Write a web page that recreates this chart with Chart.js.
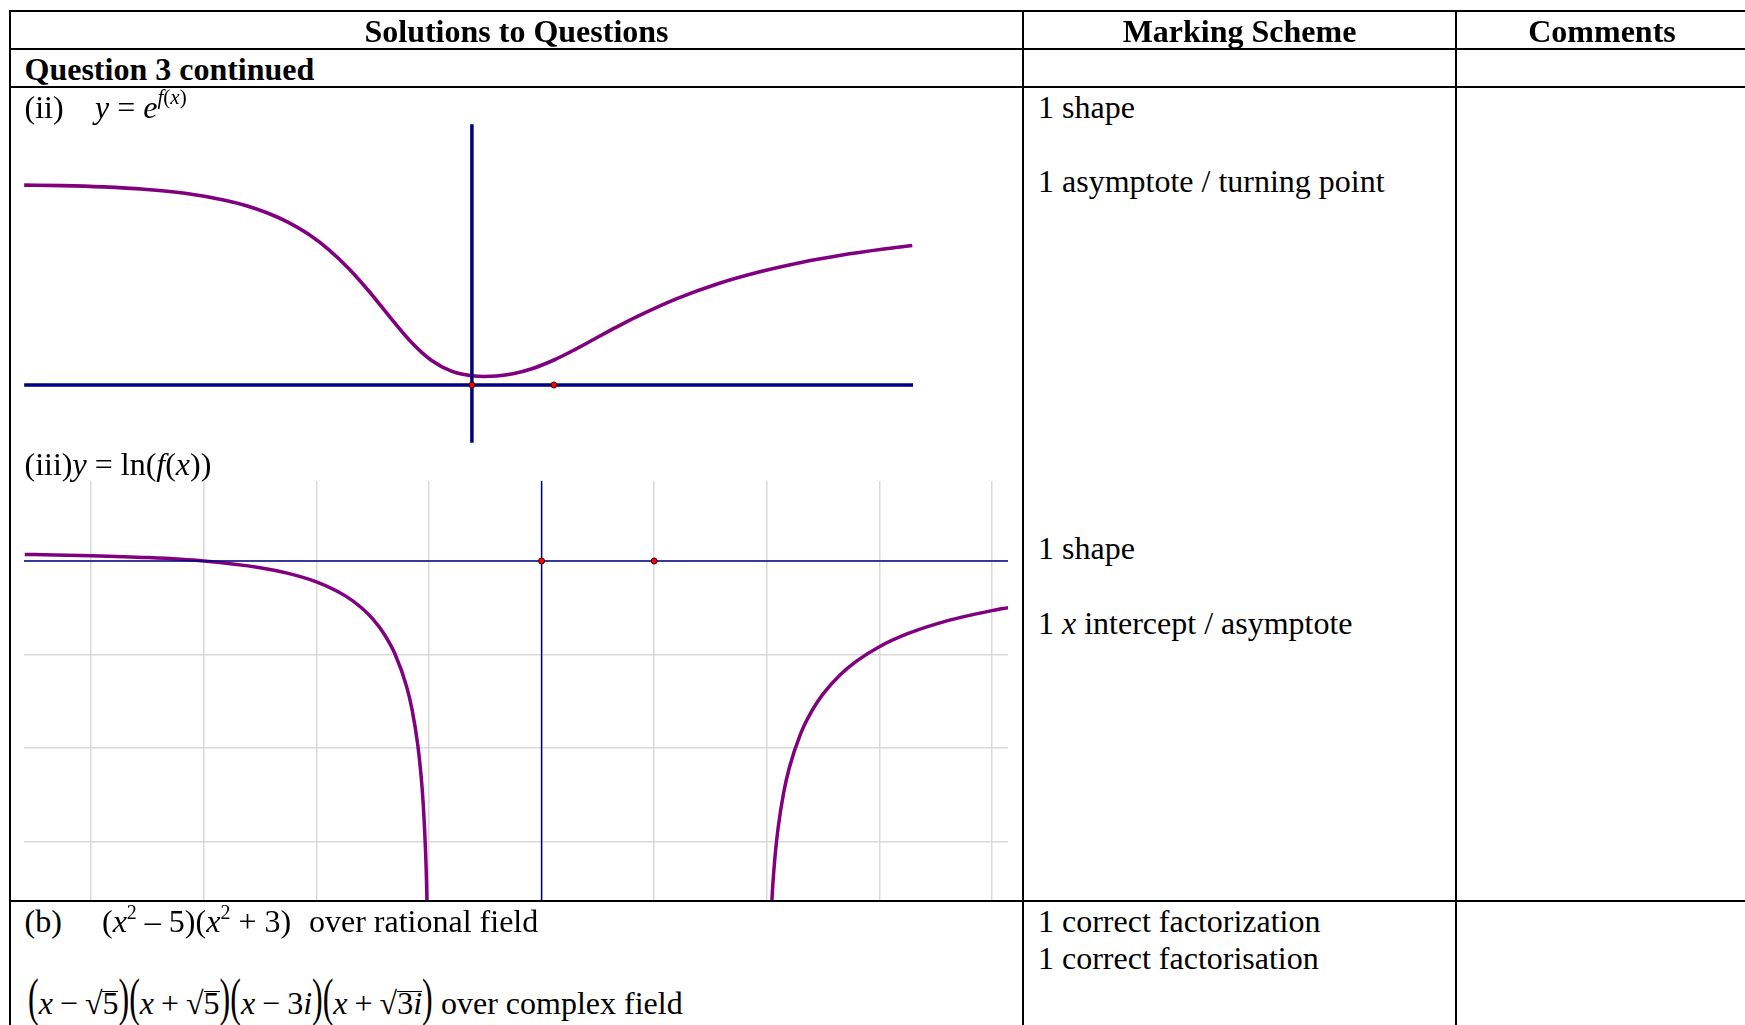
<!DOCTYPE html>
<html>
<head>
<meta charset="utf-8">
<title>Question 3 continued</title>
<script src="https://cdn.jsdelivr.net/npm/chart.js@4.4.1/dist/chart.umd.min.js"></script>
<style>
  html, body { margin: 0; padding: 0; background: #fff; }
  body { width: 1745px; height: 1025px; position: relative; overflow: hidden;
         font-family: "Liberation Serif", "Times New Roman", serif; }
  .ln { position: absolute; background: #000; z-index: 3; }
  .tx { position: absolute; white-space: nowrap; line-height: 32px; font-size: 32px; color: #000; z-index: 4; }
  .b { font-weight: bold; }
  .c { text-align: center; }
  .sup { position: relative; font-size: 20px; top: -13px; }
  .bp { display: inline-block; transform: scaleY(1.65); transform-origin: 50% 25px; }
  .ov { display: inline-block; line-height: 22px; border-top: 1.6px solid #000; }
  .op { margin: 0 7px; }
  canvas { position: absolute; z-index: 1; }
</style>
</head>
<body>

<!-- table rules -->
<div class="ln" style="left:9px;top:10px;width:1740px;height:2px"></div>
<div class="ln" style="left:9px;top:48px;width:1740px;height:2px"></div>
<div class="ln" style="left:9px;top:86px;width:1740px;height:2px"></div>
<div class="ln" style="left:9px;top:900px;width:1740px;height:2px"></div>
<div class="ln" style="left:9px;top:10px;width:2px;height:1020px"></div>
<div class="ln" style="left:1022px;top:10px;width:2px;height:1020px"></div>
<div class="ln" style="left:1455px;top:10px;width:2px;height:1020px"></div>

<!-- header row -->
<div class="tx b c" style="left:10px;width:1013px;top:15.4px">Solutions to Questions</div>
<div class="tx b c" style="left:1023px;width:433px;top:15.4px">Marking Scheme</div>
<div class="tx b c" style="left:1456px;width:292px;top:15.4px">Comments</div>
<div class="tx b" style="left:24.5px;top:53px">Question 3 continued</div>

<!-- part (ii) -->
<div class="tx" style="left:24.5px;top:91.3px">(ii)</div>
<div class="tx" style="left:95px;top:91.3px"><i>y</i> = <i>e</i><span class="sup" style="font-size:21px;top:-14px"><i>f</i>(<i>x</i>)</span></div>
<div class="tx" style="left:1038px;top:91.3px">1 shape</div>
<div class="tx" style="left:1038px;top:165.4px">1 asymptote / turning point</div>

<!-- part (iii) -->
<div class="tx" style="left:24.5px;top:447.6px">(iii)<i>y</i> = ln(<i>f</i>(<i>x</i>))</div>
<div class="tx" style="left:1038px;top:532.3px">1 shape</div>
<div class="tx" style="left:1038px;top:607.4px">1 <i>x</i> intercept / asymptote</div>

<!-- part (b) -->
<div class="tx" style="left:24.5px;top:905.3px">(b)</div>
<div class="tx" style="left:102px;top:905.3px">(<i>x</i><span class="sup">2</span> – 5)(<i>x</i><span class="sup">2</span> + 3)</div>
<div class="tx" style="left:309px;top:905.3px">over rational field</div>
<div class="tx" style="left:1038px;top:905.3px">1 correct factorization</div>
<div class="tx" style="left:1038px;top:942.3px">1 correct factorisation</div>
<div class="tx" style="left:28px;top:986.8px"><span class="bp">(</span><i>x</i><span class="op">−</span>√<span class="ov">5</span><span class="bp">)</span><span class="bp">(</span><i>x</i><span class="op">+</span>√<span class="ov">5</span><span class="bp">)</span><span class="bp">(</span><i>x</i><span class="op">−</span>3<i>i</i><span class="bp">)</span><span class="bp">(</span><i>x</i><span class="op">+</span>√<span class="ov">3<i>i</i></span><span class="bp">)</span></div>
<div class="tx" style="left:441px;top:986.8px">over complex field</div>

<canvas id="expChart" width="910" height="340" style="left:14px;top:115px;width:910px;height:340px"></canvas>
<canvas id="lnChart" width="984" height="420" style="left:24px;top:481px;width:984px;height:420px"></canvas>

<script>
// y = e^{f(x)} : curve samples
const expX = [-5.46, -5, -4.5, -4, -3.5, -3, -2.75, -2.5, -2.25, -2, -1.75, -1.5, -1.25, -1, -0.75, -0.5, -0.25, 0, 0.15, 0.3, 0.5, 0.75, 1, 1.25, 1.5, 1.75, 2, 2.5, 3, 3.5, 4, 4.5, 5, 5.37];
const expY = [2.944, 2.936, 2.917, 2.883, 2.823, 2.718, 2.640, 2.537, 2.402, 2.226, 1.998, 1.713, 1.373, 1.000, 0.644, 0.368, 0.204, 0.135, 0.125, 0.132, 0.165, 0.247, 0.368, 0.518, 0.681, 0.844, 1.000, 1.273, 1.492, 1.664, 1.801, 1.910, 1.998, 2.053];
// axis extents and marked points for the first graph
const expAxisX = [-5.46, 5.38];
const expAxisY = [-0.85, 3.84];
const expMarks = [0, 1];

// y = ln(f(x)) : left and right branches
const lnLeftX = [-4.59, -4.5, -4, -3.5, -3, -2.5, -2.25, -2, -1.75, -1.6, -1.5, -1.4, -1.3, -1.2, -1.15, -1.1, -1.07, -1.05, -1.03, -1.02, -1.01];
const lnLeftY = [0.0696, 0.0682, 0.0572, 0.0370, 0, -0.0715, -0.1321, -0.2231, -0.3677, -0.4997, -0.6190, -0.7777, -0.9996, -1.3383, -1.5924, -1.9642, -2.3007, -2.6237, -3.1211, -3.5199, -4.2064];
const lnRightX = [2.02, 2.03, 2.05, 2.075, 2.1, 2.15, 2.2, 2.3, 2.4, 2.5, 2.65, 2.8, 3, 3.25, 3.5, 3.75, 4, 4.15];
const lnRightY = [-4.4321, -4.0313, -3.5297, -3.1357, -2.8594, -2.4765, -2.2110, -1.8490, -1.6035, -1.4214, -1.2183, -1.0674, -0.9163, -0.7777, -0.6745, -0.5945, -0.5306, -0.4982];
// axis extents and marked points for the second graph
const lnAxisX = [-4.62, 4.16];
const lnAxisY = [0.86, -3.64];
const lnMarks = [0, 1];

const PURPLE = '#800080';
const NAVY = '#000080';

function pts(xs, ys) { return xs.map((x, i) => ({ x: x, y: ys[i] })); }
function lineSet(data, color, width, order) {
  return { data: data, showLine: true, borderColor: color, borderWidth: width, pointRadius: 0,
           pointHoverRadius: 0, fill: false, order: order };
}
function markSet(xs, order) {
  return { data: xs.map(x => ({ x: x, y: 0 })), showLine: false, pointRadius: 3,
           pointBackgroundColor: '#ff0000', pointBorderColor: '#3a0000', pointBorderWidth: 1, order: order };
}
const common = {
  responsive: false, animation: false, devicePixelRatio: 1, events: [],
  layout: { padding: 0, autoPadding: false },
  plugins: { legend: { display: false }, tooltip: { enabled: false } }
};

const expCurve = lineSet(pts(expX, expY), PURPLE, 3.6, 3);
expCurve.cubicInterpolationMode = 'monotone';

new Chart(document.getElementById('expChart'), {
  type: 'scatter',
  data: { datasets: [
    markSet(expMarks, 0),
    lineSet(expAxisX.map(x => ({ x: x, y: 0 })), NAVY, 3.5, 1),
    lineSet(expAxisY.map(y => ({ x: 0, y: y })), NAVY, 3.5, 1),
    expCurve
  ] },
  options: Object.assign({}, common, {
    scales: {
      x: { type: 'linear', display: false, min: -5.584, max: 5.513 },
      y: { type: 'linear', display: false, min: -1.031, max: 3.976 }
    }
  })
});

const lnLeft = lineSet(pts(lnLeftX, lnLeftY), PURPLE, 3.5, 3);
lnLeft.cubicInterpolationMode = 'monotone';
const lnRight = lineSet(pts(lnRightX, lnRightY), PURPLE, 3.5, 3);
lnRight.cubicInterpolationMode = 'monotone';

const gridScale = (min, max, horizontal) => ({
  type: 'linear', min: min, max: max,
  ticks: { display: false, stepSize: 1, includeBounds: false },
  grid: { color: '#d9d9d9', lineWidth: 1.5, drawTicks: false },
  border: { display: false },
  afterFit: horizontal ? (s => { s.height = 0; }) : (s => { s.width = 0; })
});

new Chart(document.getElementById('lnChart'), {
  type: 'scatter',
  data: { datasets: [
    markSet(lnMarks, 0),
    lineSet(lnAxisX.map(x => ({ x: x, y: 0 })), NAVY, 1.5, 1),
    lineSet(lnAxisY.map(y => ({ x: 0, y: y })), NAVY, 1.5, 1),
    lnLeft,
    lnRight
  ] },
  options: Object.assign({}, common, {
    scales: {
      x: gridScale(-4.5968, 4.1421, true),
      y: gridScale(-3.6364, 0.8556, false)
    }
  })
});
</script>
</body>
</html>
